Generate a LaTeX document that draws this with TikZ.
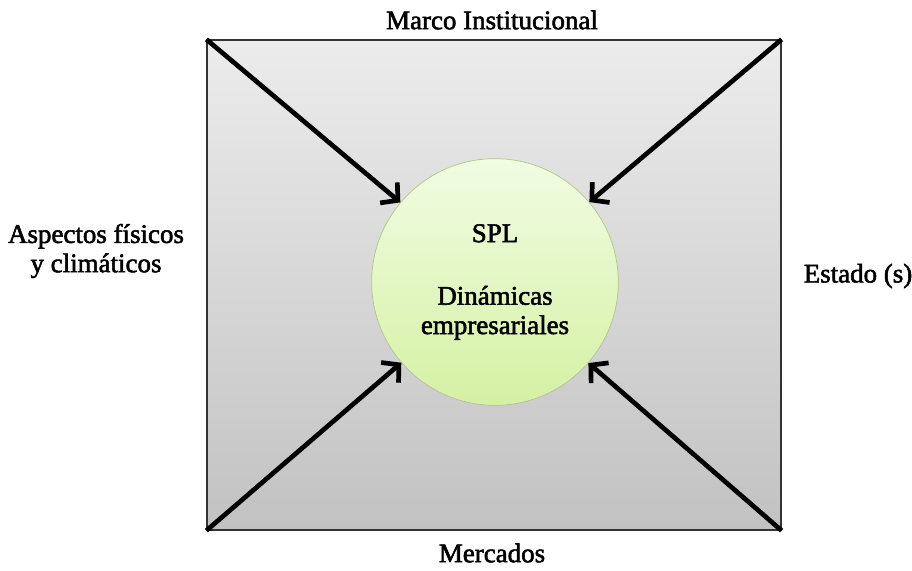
\documentclass[tikz,border=0pt]{standalone}
\usepackage{fontspec}
\setmainfont{Liberation Serif}
\newfontfamily\heavyserif{Liberation Serif}[FakeBold=2]
\usetikzlibrary{arrows.meta}
\definecolor{framegraytop}{rgb}{0.925,0.925,0.925}
\definecolor{framegraybot}{rgb}{0.760,0.760,0.760}
\definecolor{splgreentop}{rgb}{0.945,0.988,0.890}
\definecolor{splgreenbot}{rgb}{0.835,0.945,0.640}
\definecolor{splborder}{rgb}{0.690,0.780,0.520}

\begin{document}
\begin{tikzpicture}[x=0.03cm, y=-0.03cm]
    % Define styles for frame, core and labels
    \tikzstyle{label text}=[font=\heavyserif\fontsize{23pt}{25pt}\selectfont, align=center, text=black]
    \tikzstyle{frame box}=[rectangle, draw=black!80, line width=1pt, minimum width=17.22cm, minimum height=14.7cm, top color=framegraytop, bottom color=framegraybot]
    \tikzstyle{core circle}=[circle, draw=splborder, line width=0.6pt, minimum size=7.4cm, top color=splgreentop, bottom color=splgreenbot, label text]
    \tikzstyle{push arrow}=[line width=4pt, -{Straight Barb[length=0.36cm, width=0.8cm]}, black]

    \useasboundingbox (0,0) rectangle (912,571);

    % Frame and core
    \node[frame box] (frame) at (494,285) {};
    \node[core circle] (spl) at (495,282) {SPL\\[1.0cm]Dinámicas\\empresariales};

    % Surrounding factors
    \node[label text] (marco) at (492,20) {Marco Institucional};
    \node[label text] (aspectos) at (96,251) {Aspectos físicos\\y climáticos};
    \node[label text] (estado) at (858,276) {Estado (s)};
    \node[label text] (mercados) at (492,553) {Mercados};

    % Arrows from the corners to the core
    \foreach \c in {north west, north east, south west, south east} {
        \draw[push arrow] (frame.\c) -- (spl);
    }

\end{tikzpicture}
\end{document}
